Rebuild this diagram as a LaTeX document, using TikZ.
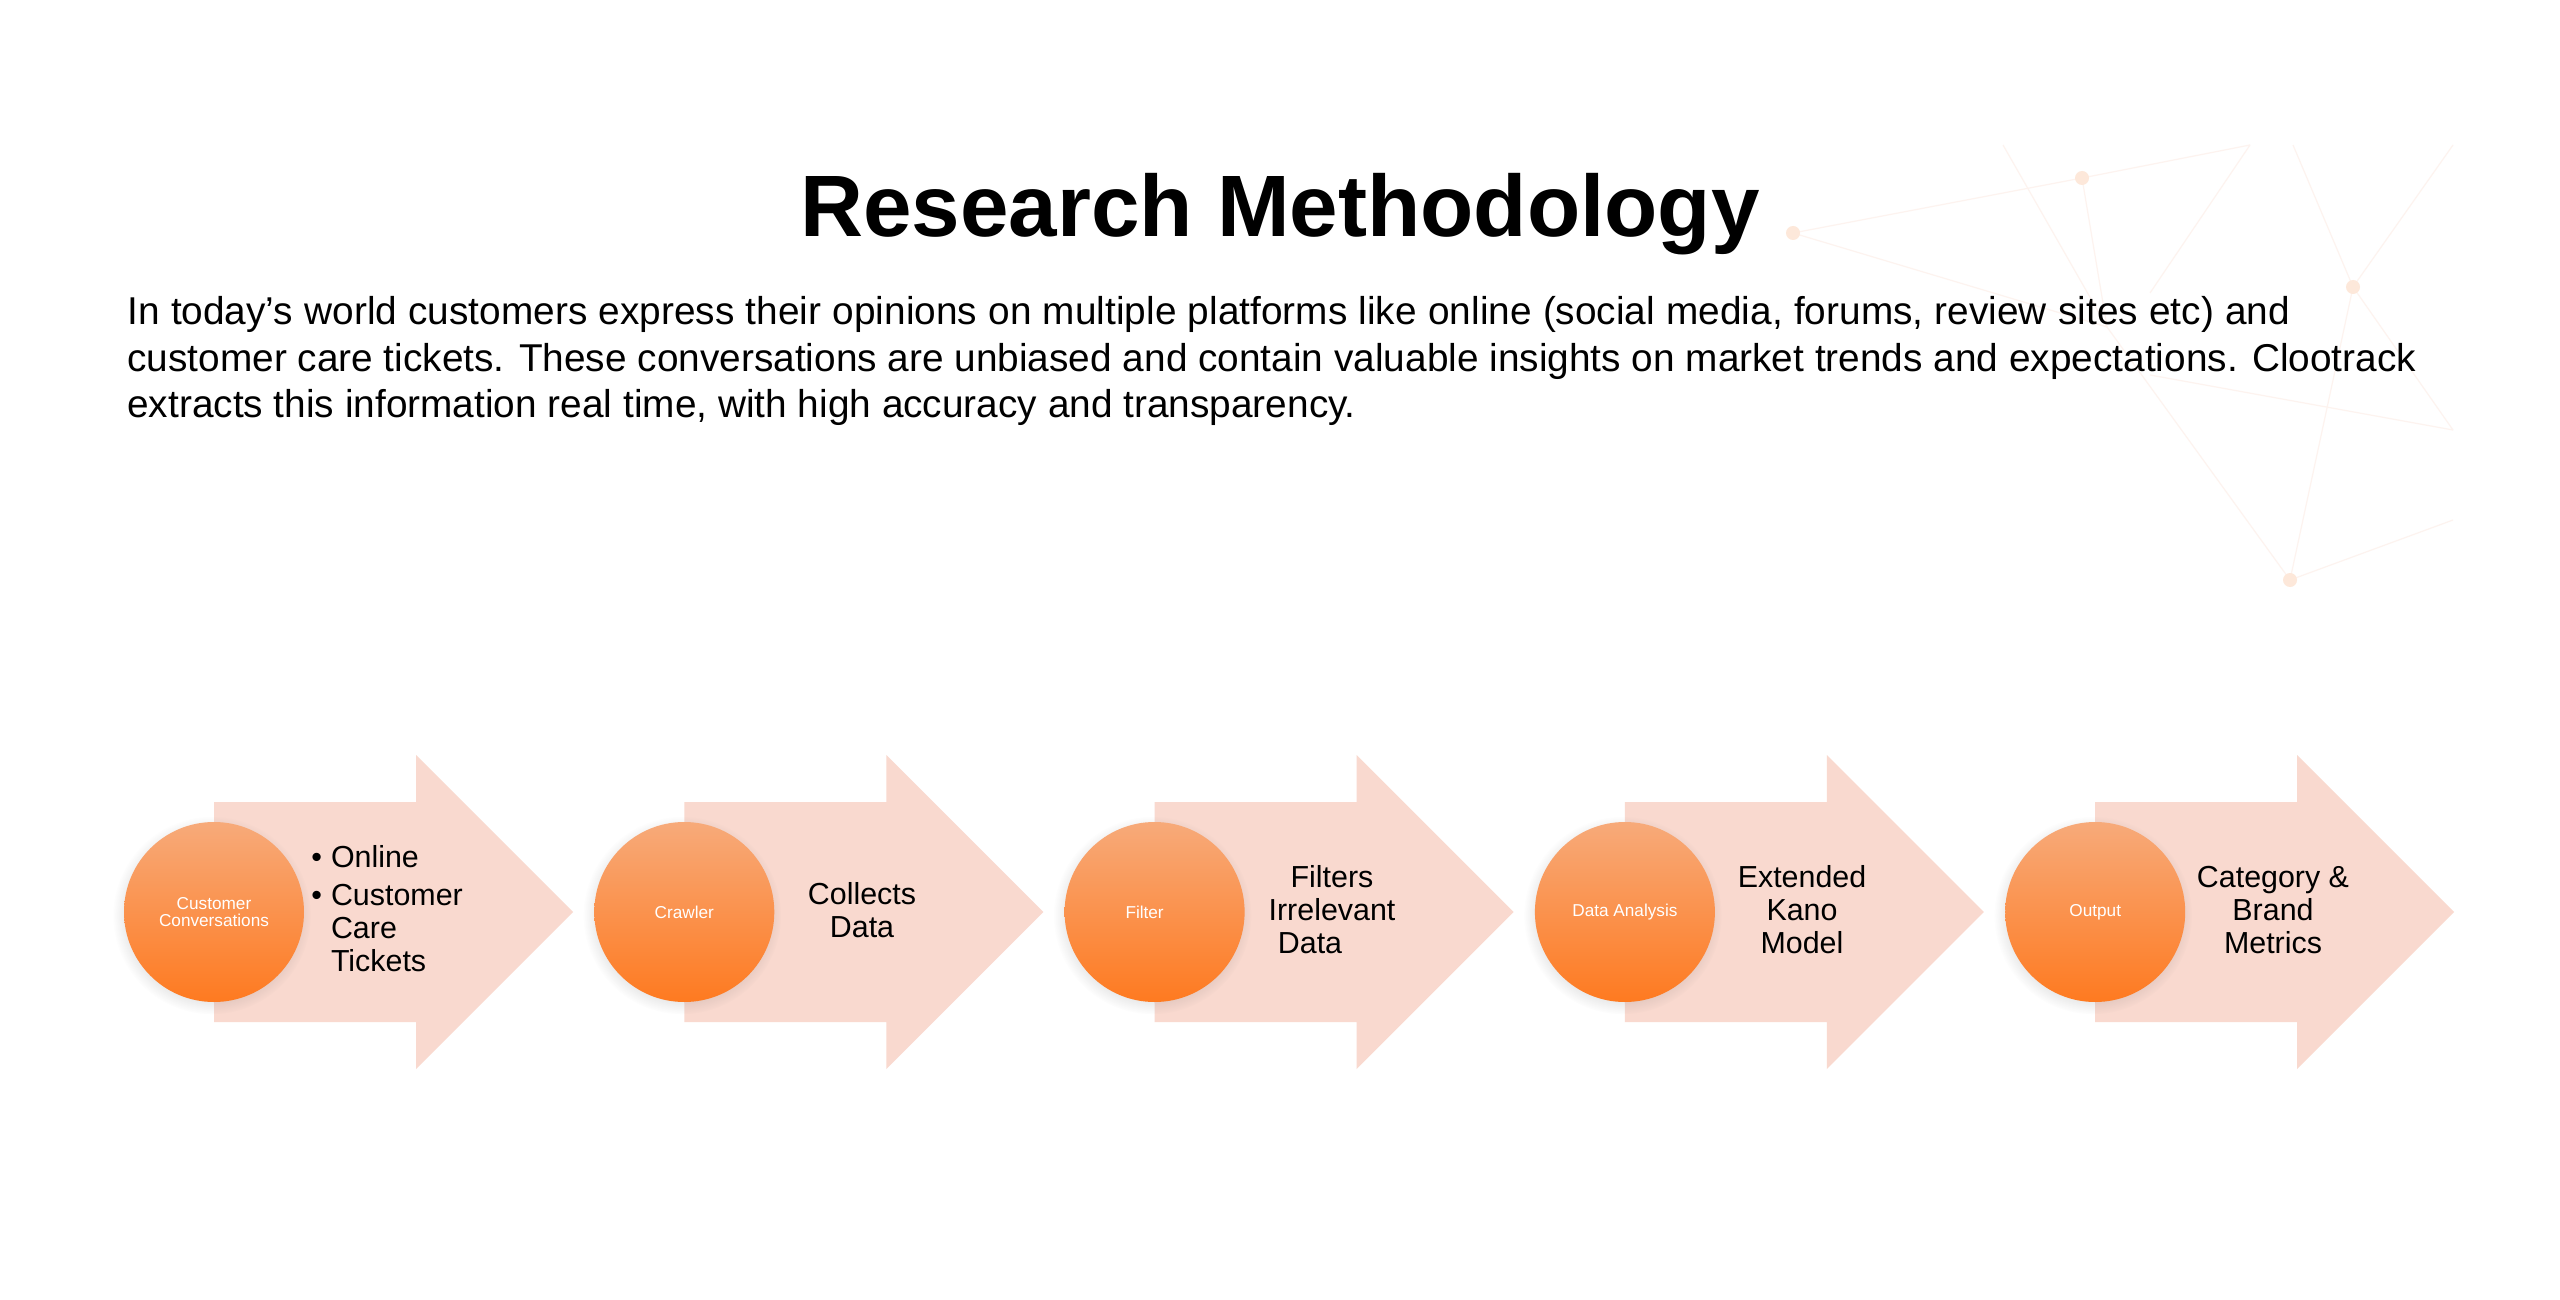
\documentclass[tikz,border=0pt]{standalone}
\usepackage{fontspec}
\setmainfont{Liberation Sans}
\usetikzlibrary{shadows}
\definecolor{arrowfill}{RGB}{249,217,207}
\definecolor{circtop}{RGB}{247,170,122}
\definecolor{circbot}{RGB}{254,122,32}
\definecolor{deco}{RGB}{253,243,239}
\definecolor{decodot}{RGB}{253,232,218}
\tikzset{
  stepshape/.style={fill=arrowfill},
  stepcirc/.style={circle, minimum size=90pt, inner sep=0pt, top color=circtop, bottom color=circbot,
    text=white, align=center, font=\fontsize{8.6}{8.4}\selectfont,
    circular drop shadow={shadow xshift=-1pt, shadow yshift=-1.5pt, opacity=.15, fill=black!60}},
  steptext/.style={align=center, inner sep=0pt, font=\fontsize{15.2}{16.5}\selectfont},
  decoline/.style={draw=deco, line width=0.6pt},
  decodot/.style={circle, fill=decodot, minimum size=7pt, inner sep=0pt},
}
\begin{document}
\begin{tikzpicture}[x=0.5pt,y=-0.5pt]
\useasboundingbox (0,0) rectangle (2560,1300);
\fill[white] (0,0) rectangle (2560,1300);

% faint network decoration
\coordinate (dH) at (1793,233);
\coordinate (dB) at (2082,178);
\coordinate (dA) at (2003,145);
\coordinate (dC) at (2250,145);
\coordinate (dD) at (2293,145);
\coordinate (dF) at (2453,145);
\coordinate (dE) at (2353,287);
\coordinate (dI) at (2107,327);
\coordinate (dG) at (2290,580);
\coordinate (dJ) at (2453,520);
\coordinate (dK) at (2453,430);
\coordinate (dP) at (2150,293);
\coordinate (dL) at (2150,375);
\path[decoline] (dH) -- (dB) -- (dC);
\path[decoline] (dA) -- (dI) -- (dG);
\path[decoline] (dB) -- (dI);
\path[decoline] (dD) -- (dE) -- (dF);
\path[decoline] (dE) -- (dG) -- (dJ);
\path[decoline] (dE) -- (dK);
\path[decoline] (dP) -- (dC);
\path[decoline] (dL) -- (dK);
\path[decoline] (dH) -- (dI);
\node[decodot] (n1) at (dB) {};
\node[decodot] (n2) at (dE) {};
\node[decodot] (n3) at (dG) {};
\node[decodot] (n4) at (dH) {};

% title and paragraph
\node[anchor=base, inner sep=0pt, font=\bfseries\fontsize{43.6}{50}\selectfont] (title) at (1280,237) {Research Methodology};
\node[anchor=base west, inner sep=0pt, font=\fontsize{19.4}{23.25}\selectfont] (para) at (127,325)
{\begin{tabular}[t]{@{}l@{}}
{\spaceskip=5.65pt plus 1pt\relax In today’s world customers express their opinions on multiple platforms like online (social media, forums, review sites etc) and}\\
customer care tickets. These conversations are unbiased and contain valuable insights on market trends and expectations. Clootrack\\
extracts this information real time, with high accuracy and transparency.
\end{tabular}};

% arrows
\foreach \x in {214,684.3,1154.6,1624.9,2095.2}{
  \path[stepshape] (\x,802) -- (\x+202,802) -- (\x+202,755) -- (\x+359,912)
     -- (\x+202,1069) -- (\x+202,1022) -- (\x,1022) -- cycle;
}

% circles
\node[stepcirc] (c1) at (214,912) {Customer\\Conversations};
\node[stepcirc] (c2) at (684.3,912) {Crawler};
\node[stepcirc] (c3) at (1154.6,912) {Filter\hspace*{10pt}};
\node[stepcirc] (c4) at (1624.9,912) {Data Analysis};
\node[stepcirc] (c5) at (2095.2,912) {Output};

% step texts
\node[anchor=base west, inner sep=0pt, font=\fontsize{15.2}{16.5}\selectfont] (t1) at (311,867)
{\begin{tabular}[t]{@{}l@{\hspace{4.5pt}}l@{}}
\textbullet & Online\\[2.5pt]
\textbullet & Customer\\
 & Care\\
 & Tickets
\end{tabular}};
\node[steptext] (t2) at (862,910) {Collects\\Data};
\node[steptext] (t3) at (1332,910) {Filters\\Irrelevant\\Data\hspace*{22pt}};
\node[steptext] (t4) at (1802,910) {Extended\\Kano\\Model};
\node[steptext] (t5) at (2273,910) {Category \&\\Brand\\Metrics};
\end{tikzpicture}
\end{document}
